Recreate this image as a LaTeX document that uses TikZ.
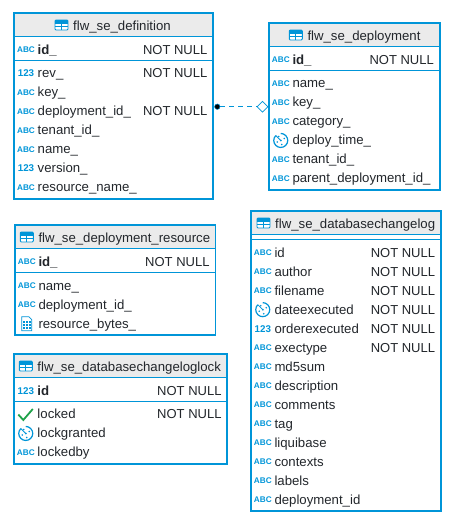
\documentclass[tikz,border=0pt]{standalone}
\usepackage{fontspec}
\setmainfont{Liberation Sans}
\definecolor{dbblue}{HTML}{0095D8}
\definecolor{headgrey}{HTML}{EBEBEB}
\definecolor{ink}{HTML}{22262B}
\definecolor{okgreen}{HTML}{1FA24A}
\usetikzlibrary{arrows.meta, positioning, shapes.geometric}
\tikzset{
  frame/.style={draw=dbblue, line width=1.8pt, outer sep=0pt},
  headfill/.style={fill=headgrey, draw=none},
  rule/.style={draw=dbblue, line width=0.9pt},
  lbl/.style={font=\fontsize{13.2}{14}\selectfont, color=ink, inner sep=0pt, anchor=base west},
  nn/.style={font=\fontsize{13}{14}\selectfont, color=ink, inner sep=0pt, anchor=base east},
  typetag/.style={color=dbblue, inner sep=0pt},
  rel/.style={draw=dbblue, line width=0.7pt, dash pattern=on 5pt off 4pt},
  fkdot/.style={circle, fill=black, draw=dbblue, line width=0.5pt, minimum size=5.5pt, inner sep=0pt},
  pkdiamond/.style={diamond, fill=white, draw=dbblue, line width=0.7pt, minimum width=11pt, minimum height=11pt, inner sep=0pt},
  pics/icabc/.style={code={\node[typetag, font=\fontsize{8.2}{8}\bfseries\selectfont] (-t) {ABC};}},
  pics/icnum/.style={code={\node[typetag, font=\fontsize{9.8}{9}\bfseries\selectfont] (-t) {123};}},
  pics/icclock/.style={code={
    \draw[dbblue, line width=1.2pt] (-5,-5) arc[start angle=225, end angle=-90, radius=7];
    \fill[dbblue] (0,0) circle[radius=1] (-3.5,1.5) circle[radius=.9] (3.5,-2) circle[radius=.9] (1,4) circle[radius=.9] (-2,-4) circle[radius=.9];
    \draw[dbblue, line width=.8pt] (0,0) -- (-5,-5);
  }},
  pics/icfile/.style={code={
    \draw[dbblue, line width=.7pt, fill=white] (-5,-7) -- (2,-7) -- (5,-4) -- (5,7) -- (-5,7) -- cycle;
    \foreach \a in {-3,0,3} \foreach \b in {-2,1,4} \fill[dbblue] (\a-.8,\b-.8) rectangle (\a+.8,\b+.8);
  }},
  pics/iccheck/.style={code={
    \draw[okgreen, line width=1.8pt] (-7.5,0) -- (-2.5,5.5) -- (7,-5.5);
  }},
  pics/ictable/.style={code={
    \draw[dbblue, line width=.9pt, fill=white, rounded corners=1pt] (-6.5,-5) rectangle (6.5,5);
    \fill[dbblue] (-6.5,-5) rectangle (6.5,-.8);
    \draw[dbblue, line width=.8pt] (0,-1) -- (0,5) (-6.5,1.8) -- (6.5,1.8);
  }},
}
% frame of one table: name, title, title x, left, top, right, bottom, head bottom, rule y
\newcommand{\ertable}[9]{
  \fill[headfill] (#4,#5) rectangle (#6,#8);
  \draw[rule] (#4,#8) -- (#6,#8);
  \draw[rule] (#4,#9) -- (#6,#9);
  \node[frame, minimum width=#6-#4, minimum height=#7-#5, anchor=north west, inner sep=0pt] (#1) at (#4,#5) {};
  \node[lbl] (#1-title) at (#3,#5+17) {#2};
  \pic (#1-ic) at (#3-11.5,#5+12) {ictable};
}
% rows of one table: name, text x, right edge of NOT NULL, y/icon/label/constraint
\newcommand{\errows}[4]{
  \foreach \y/\ic/\txt/\con [count=\i] in {#4} {
    \pic (#1-\i) at (#2-11.5,\y) {ic\ic};
    \node[lbl] (#1-\i-l) at (#2,\y+4.4) {\txt};
    \node[nn] (#1-\i-c) at (#3,\y+4.4) {\con};
  }
}
\begin{document}
\begin{tikzpicture}[x=1pt,y=-1pt]
\useasboundingbox (0,0) rectangle (458,528);
\ertable{def}{flw\_se\_definition}{73}{14}{13}{213}{199}{36}{60.5}
\errows{def}{37.5}{207.5}{
  49.7/abc/\textbf{id\_}/NOT NULL, 73.5/num/rev\_/NOT NULL, 92.5/abc/key\_/,
  111.5/abc/deployment\_id\_/NOT NULL, 130.5/abc/tenant\_id\_/, 149.5/abc/name\_/,
  168.5/num/version\_/, 187.5/abc/resource\_name\_/}
\ertable{dep}{flw\_se\_deployment}{307.3}{269}{23}{440}{190}{46}{70.5}
\errows{dep}{292.3}{434}{
  59.7/abc/\textbf{id\_}/NOT NULL, 83.5/abc/name\_/, 102.5/abc/key\_/,
  121.5/abc/category\_/, 140.5/clock/deploy\_time\_/, 159.5/abc/tenant\_id\_/,
  178.5/abc/parent\_deployment\_id\_/}
\ertable{res}{flw\_se\_deployment\_resource}{38.3}{15}{225}{215.5}{335}{248}{272}
\errows{res}{38.3}{209.7}{
  261.7/abc/\textbf{id\_}/NOT NULL, 285.7/abc/name\_/, 304.7/abc/deployment\_id\_/,
  323.7/file/resource\_bytes\_/}
\ertable{lock}{flw\_se\_databasechangeloglock}{37.3}{14}{354}{227}{464}{377.7}{401}
\errows{lock}{37.3}{221.7}{
  390.7/num/\textbf{id}/NOT NULL, 414.5/check/locked/NOT NULL, 433.5/clock/lockgranted/,
  452.5/abc/lockedby/}
\ertable{log}{flw\_se\_databasechangelog}{275}{251}{211}{441}{511}{234.7}{239.3}
\errows{log}{274.3}{435.3}{
  252.7/abc/id/NOT NULL, 271.7/abc/author/NOT NULL, 290.7/abc/filename/NOT NULL,
  309.7/clock/dateexecuted/NOT NULL, 328.7/num/orderexecuted/NOT NULL, 347.7/abc/exectype/NOT NULL,
  366.7/abc/md5sum/, 385.7/abc/description/, 404.7/abc/comments/, 423.7/abc/tag/,
  442.7/abc/liquibase/, 461.7/abc/contexts/, 480.7/abc/labels/, 499.7/abc/deployment\_id/}
\node[fkdot] (defdot) at (217.3,106.7) {};
\node[pkdiamond] (depdiamond) at (262.5,106.7) {};
\draw[rel] (defdot) -- (depdiamond);
\end{tikzpicture}
\end{document}
